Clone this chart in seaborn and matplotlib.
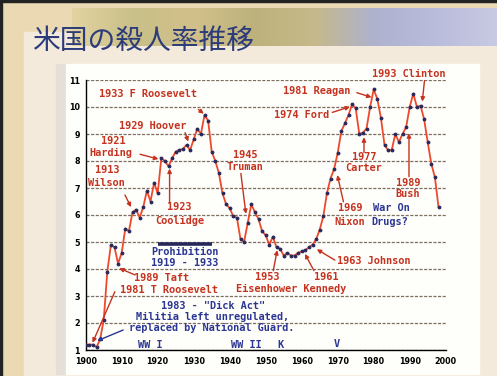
import numpy as np
import pandas as pd
import matplotlib
matplotlib.use("Agg")
import matplotlib.pyplot as plt
import seaborn as sns
from matplotlib.patches import Rectangle
from matplotlib.colors import LinearSegmentedColormap

# ---------------- data ----------------
years = list(range(1900, 1999))
rates = [1.2, 1.2, 1.2, 1.1, 1.4, 2.1, 3.9, 4.9, 4.8, 4.2,
         4.6, 5.5, 5.4, 6.1, 6.2, 5.9, 6.3, 6.9, 6.5, 7.2,
         6.8, 8.1, 8.0, 7.8, 8.1, 8.35, 8.4, 8.45, 8.6, 8.4,
         8.8, 9.2, 9.0, 9.7, 9.5, 8.35, 8.0, 7.55, 6.8, 6.4,
         6.25, 5.95, 5.9, 5.1, 5.0, 5.7, 6.4, 6.1, 5.85, 5.4,
         5.25, 4.9, 5.2, 4.8, 4.75, 4.5, 4.6, 4.5, 4.5, 4.6,
         4.65, 4.7, 4.8, 4.9, 5.1, 5.45, 5.95, 6.8, 7.35, 7.7,
         8.3, 9.1, 9.4, 9.7, 10.1, 9.95, 9.0, 9.05, 9.2, 10.0,
         10.65, 10.3, 9.6, 8.6, 8.4, 8.4, 9.0, 8.7, 9.0, 9.25,
         10.0, 10.5, 10.0, 10.05, 9.55, 8.7, 7.9, 7.4, 6.3]
x_ticks = list(range(1900, 2001, 10))
y_ticks = list(range(1, 12))
prohibition_span = [1920, 1935]
title = "米国の殺人率推移"

df = pd.DataFrame({"year": years, "rate": rates})

# ---------------- style ----------------
sns.set_theme(style="white")
plt.rcParams["font.family"] = ["DejaVu Sans"]

W, H = 497, 376
fig = plt.figure(figsize=(W / 100, H / 100), dpi=100)
fig.patch.set_facecolor("#ead9b2")


def px_rect(x0, y0, x1, y1, **kw):
    r = Rectangle((x0 / W, 1 - y1 / H), (x1 - x0) / W, (y1 - y0) / H,
                  transform=fig.transFigure, **kw)
    fig.patches.append(r)


# slide decoration
px_rect(24, 32, 497, 376, color="#f3eadb", zorder=0.1)
ban = fig.add_axes([72 / W, 1 - 46 / H, (W - 72) / W, 38 / H])
ban.set_zorder(0.3)
ban.axis("off")
cmap = LinearSegmentedColormap.from_list(
    "ban", ["#e2d3a0", "#c9bf88", "#d2c08a", "#bdb27c", "#c6b98a",
            "#aeb2cf", "#b9bcdb", "#c8c9e2"])
ban.imshow(np.linspace(0, 1, 200)[None, :], aspect="auto", cmap=cmap,
           extent=[0, 1, 0, 1])
ban.set_xlim(0, 1)
ban.set_ylim(0, 1)
px_rect(56, 64, 67, 374, color="#e4e0d8", zorder=0.5)
px_rect(66, 64, 479, 374, color="#fefefb", zorder=0.6)
px_rect(0, 0, W, 2, color="#222222", zorder=5)
px_rect(0, 0, 2, H, color="#222222", zorder=5)

fig.text(32 / W, 1 - 41 / H, title, fontsize=20, color="#2c3b7a",
         family=["Noto Sans CJK JP", "DejaVu Sans"], ha="left", va="center",
         zorder=6)

# ---------------- chart ----------------
ax = fig.add_axes([85.7 / W, (H - 350) / H, 360 / W, 270 / H])
ax.set_zorder(10)
ax.set_facecolor("none")

LINE = "#ec4a2c"
NAVY = "#27285a"
RED = "#c5321f"
BLUE = "#2b3592"

sns.lineplot(data=df, x="year", y="rate", ax=ax, color=LINE, linewidth=1.3,
             marker="o", markersize=2.0, markerfacecolor=NAVY,
             markeredgecolor=NAVY, zorder=4)

ax.set_xlim(1900, 2000)
ax.set_ylim(1, 11)
ax.set_xticks(x_ticks)
ax.set_yticks(y_ticks)
ax.set_xlabel("")
ax.set_ylabel("")
for s in ["top", "right"]:
    ax.spines[s].set_visible(False)
for s in ["left", "bottom"]:
    ax.spines[s].set_color("black")
    ax.spines[s].set_linewidth(1.0)
ax.tick_params(axis="both", direction="inout", length=4, width=0.9,
               colors="black", labelsize=5.8, pad=2)
ax.tick_params(axis="x", pad=3)
for lab in ax.get_xticklabels() + ax.get_yticklabels():
    lab.set_fontweight("bold")
ax.yaxis.grid(True, color="#7d6e60", linestyle=(0, (2.5, 1.2)), linewidth=0.9)
ax.xaxis.grid(False)
ax.set_axisbelow(True)

# prohibition bar
ax.hlines(4.94, prohibition_span[0], prohibition_span[1], colors=NAVY,
          linewidth=2.6, linestyles="solid", zorder=3.5)

FONT = dict(family="DejaVu Sans Mono", fontweight="bold", fontsize=7.4,
            ha="center", va="center", clip_on=False, zorder=5)


def t(x, y, s, c=RED):
    ax.text(x, y, s, color=c, **FONT)


def arr(x0, y0, x1, y1, c=RED):
    ax.annotate("", xy=(x1, y1), xytext=(x0, y0),
                arrowprops=dict(arrowstyle="-|>", color=c, lw=1.0,
                                mutation_scale=6, shrinkA=0, shrinkB=0),
                zorder=5)


t(1917.4, 10.47, "1933 F Roosevelt")
arr(1931.3, 9.91, 1932.8, 9.75)
t(1918.6, 9.3, "1929 Hoover")
arr(1927.6, 9.05, 1928.5, 8.72)
t(1907.7, 8.74, "1921")
t(1907.0, 8.31, "Harding")
arr(1915.1, 8.25, 1920.2, 8.07)
t(1906.0, 7.67, "1913")
t(1905.8, 7.17, "Wilson")
arr(1910.9, 6.74, 1912.6, 6.29)
t(1925.9, 6.28, "1923")
t(1926.2, 5.79, "Coolidge")
arr(1923.3, 6.46, 1923.3, 7.72)
t(1944.25, 8.22, "1945")
t(1944.25, 7.79, "Truman")
arr(1943.1, 7.54, 1944.5, 6.04)
t(1964.2, 10.6, "1981 Reagan")
arr(1975.3, 10.53, 1979.4, 10.36)
t(1989.6, 11.22, "1993 Clinton")
arr(1994.1, 10.97, 1993.5, 10.2)
t(1960.0, 9.7, "1974 Ford")
arr(1968.5, 9.8, 1973.4, 10.01)
t(1977.3, 8.16, "1977")
t(1977.1, 7.73, "Carter")
arr(1977.3, 8.31, 1977.3, 8.88)
t(1989.6, 7.2, "1989")
t(1989.4, 6.78, "Bush")
arr(1989.8, 7.42, 1989.8, 9.03)
t(1973.4, 6.25, "1969")
t(1973.4, 5.75, "Nixon")
arr(1971.6, 6.49, 1969.9, 7.48)
t(1985.0, 6.25, "War On", BLUE)
t(1984.5, 5.75, "Drugs?", BLUE)
t(1980.1, 4.3, "1963 Johnson")
arr(1969.2, 4.33, 1964.2, 4.73)
t(1950.3, 3.72, "1953")
t(1966.9, 3.72, "1961")
t(1957.2, 3.25, "Eisenhower Kennedy")
arr(1963.4, 3.94, 1960.9, 4.56)
arr(1952.1, 3.94, 1953.2, 4.7)
t(1921.1, 3.68, "1989 Taft")
arr(1913.7, 3.78, 1909.3, 4.03)
t(1923.0, 3.22, "1981 T Roosevelt")
arr(1908.1, 3.16, 1901.9, 1.27)
t(1927.6, 4.62, "Prohibition", BLUE)
t(1927.6, 4.21, "1919 - 1933", BLUE)
t(1935.5, 2.63, "1983 - \"Dick Act\"", BLUE)
t(1935.2, 2.23, "Militia left unregulated,", BLUE)
t(1934.9, 1.8, "replaced by National Guard.", BLUE)
arr(1910.4, 1.74, 1903.2, 1.34, BLUE)
t(1917.9, 1.19, "WW I", BLUE)
t(1944.7, 1.19, "WW II", BLUE)
t(1954.2, 1.19, "K", BLUE)
t(1969.7, 1.22, "V", BLUE)

fig.savefig("out.png", dpi=100, facecolor=fig.get_facecolor())
